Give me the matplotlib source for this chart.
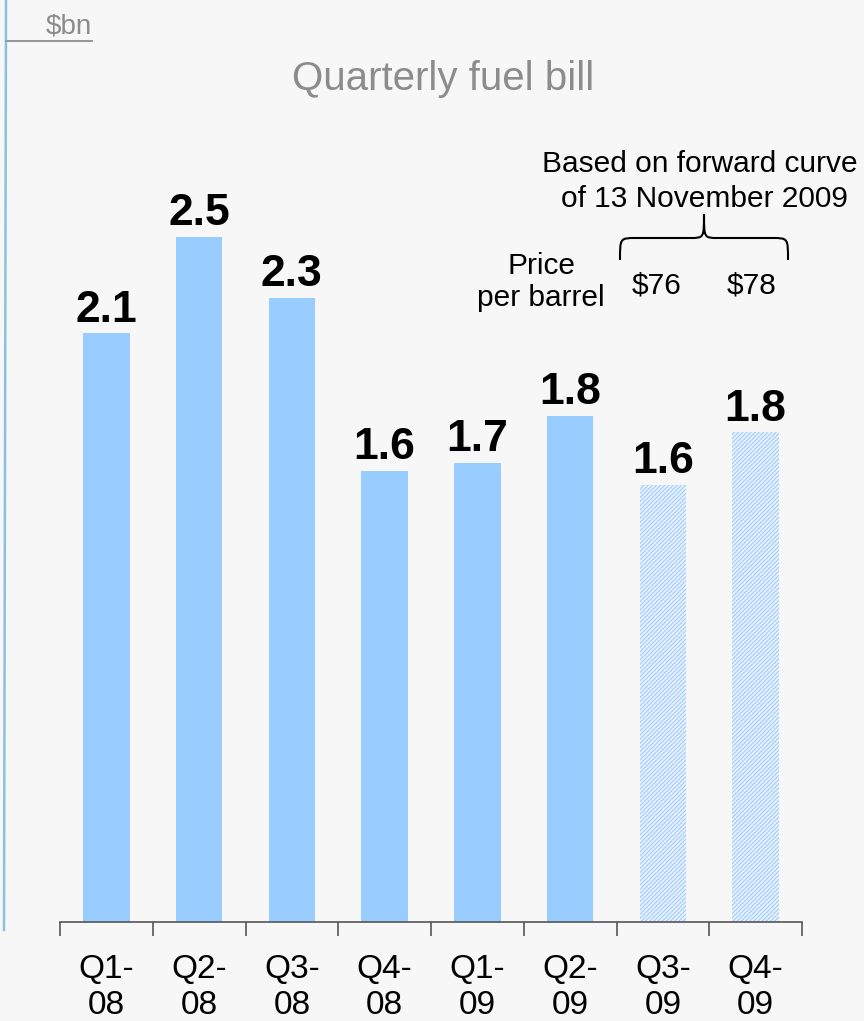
import matplotlib.pyplot as plt
from matplotlib.path import Path
from matplotlib.patches import PathPatch
from matplotlib.lines import Line2D

plt.rcParams['font.family'] = ['Liberation Sans', 'DejaVu Sans']
plt.rcParams['hatch.linewidth'] = 0.8

# данные
quarters = ['Q1-\n08', 'Q2-\n08', 'Q3-\n08', 'Q4-\n08', 'Q1-\n09', 'Q2-\n09', 'Q3-\n09', 'Q4-\n09']
fuel_bill = [2.14, 2.49, 2.27, 1.64, 1.67, 1.84, 1.59, 1.78]
bar_labels = ['2.1', '2.5', '2.3', '1.6', '1.7', '1.8', '1.6', '1.8']
forecast = [False, False, False, False, False, False, True, True]
prices = ['$76', '$78']

W, H = 864, 1021
fig = plt.figure(figsize=(W / 100, H / 100), dpi=100, facecolor='#f7f7f7')


def px(x, y):
    # пиксели -> доли фигуры
    return x / W, 1 - y / H


ax = fig.add_axes([60 / W, (H - 922) / H, 742 / W, 922 / H])
ax.set_facecolor('none')

xs = range(len(quarters))
for i, (v, f) in enumerate(zip(fuel_bill, forecast)):
    if f:
        ax.bar(i, v, width=0.5, facecolor='#eaf3ff', edgecolor='#9fcaff',
               hatch='////////', linewidth=0)
    else:
        ax.bar(i, v, width=0.5, color='#99ccff', linewidth=0)
    ax.annotate(bar_labels[i], (i, v), xytext=(0, 8.5), textcoords='offset points',
                ha='center', va='baseline', fontsize=32, fontweight='bold', color='black')

ax.set_xlim(-0.5, len(quarters) - 0.5)
ax.set_ylim(0, 922 / 275)
for s in ['top', 'right', 'left']:
    ax.spines[s].set_visible(False)
ax.spines['bottom'].set_color('#555555')
ax.spines['bottom'].set_linewidth(1.2)
ax.set_yticks([])
ax.set_xticks(list(xs))
ax.set_xticklabels(quarters, fontsize=24, color='black', linespacing=1.22)
ax.tick_params(axis='x', which='major', length=0, pad=23)
ax.set_xticks([i - 0.5 for i in range(len(quarters) + 1)], minor=True)
ax.tick_params(axis='x', which='minor', length=10, width=1.2, color='#555555', direction='out')

# подписи
fig.text(*px(443, 90), 'Quarterly fuel bill', fontsize=29, color='#8c8c8c', ha='center', va='baseline')
fig.text(*px(92, 34), '$bn', fontsize=20, color='#8c8c8c', ha='right', va='baseline')
fig.add_artist(Line2D([6 / W, 92 / W], [1 - 41 / H, 1 - 41 / H], color='#8c8c8c', lw=1.3))
fig.add_artist(Line2D([6 / W, 4 / W], [1 - 0 / H, 1 - 930 / H], color='#6aaed8', lw=1.8, alpha=0.75))

fig.text(*px(700, 172), 'Based on forward curve', fontsize=21.5, ha='center', va='baseline')
fig.text(*px(704, 207), 'of 13 November 2009', fontsize=21.5, ha='center', va='baseline')
fig.text(*px(541, 274), 'Price', fontsize=21.5, ha='center', va='baseline')
fig.text(*px(541, 306), 'per barrel', fontsize=21.5, ha='center', va='baseline')
for p, x in zip(prices, [657, 752]):
    fig.text(*px(x, 293), p, fontsize=21.5, ha='center', va='baseline')

# фигурная скобка
L, R, top, tip, bot, cx = 620, 788, 238, 214, 260, 704
verts = [(L, bot), (L, top), (L, top), (L + 16, top),
         (cx - 14, top),
         (cx, top), (cx, top), (cx, tip),
         (cx, top), (cx, top), (cx + 14, top),
         (R - 16, top),
         (R, top), (R, top), (R, bot)]
codes = [Path.MOVETO, Path.CURVE4, Path.CURVE4, Path.CURVE4,
         Path.LINETO,
         Path.CURVE4, Path.CURVE4, Path.CURVE4,
         Path.CURVE4, Path.CURVE4, Path.CURVE4,
         Path.LINETO,
         Path.CURVE4, Path.CURVE4, Path.CURVE4]
verts = [px(x, y) for x, y in verts]
brace = PathPatch(Path(verts, codes), transform=fig.transFigure, facecolor='none',
                  edgecolor='black', lw=1.5)
fig.add_artist(brace)

fig.savefig('out.png', dpi=100, facecolor=fig.get_facecolor())
